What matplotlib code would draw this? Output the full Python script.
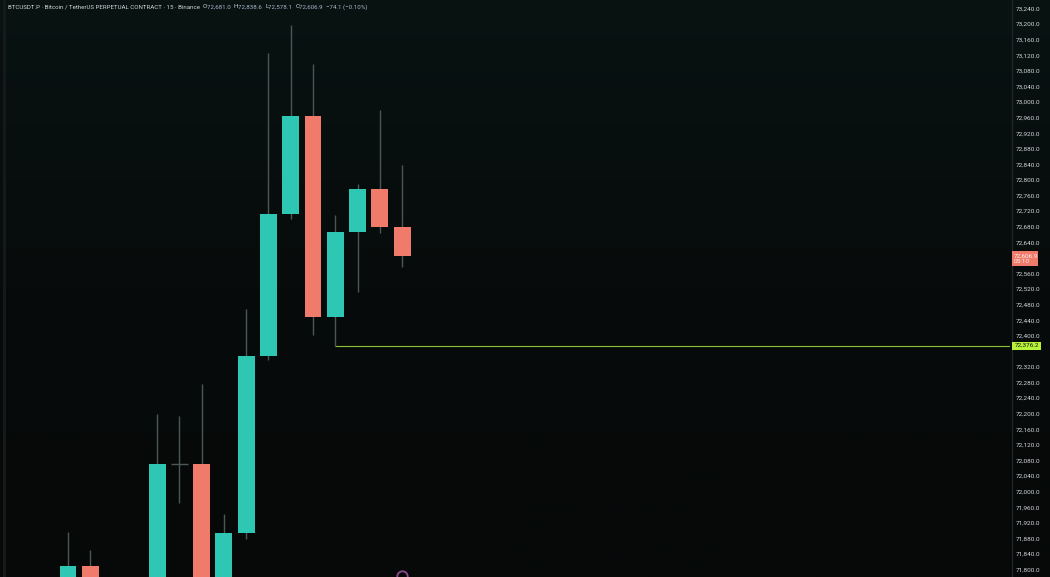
import numpy as np
import matplotlib.pyplot as plt
from matplotlib.patches import Rectangle
from matplotlib.colors import LinearSegmentedColormap

plt.rcParams['font.family'] = ['Roboto', 'DejaVu Sans']

# 15m candles, BTCUSDT.P (Binance); first four partly below the visible range
opens = [71700, 71810, 71715, 71650, 71745, 72073, 72073, 71760, 71896, 72349,
         72714, 72965, 72450, 72668, 72777, 72681.0]
highs = [71897, 71851, 71760, 71770, 72200, 72195, 72277, 71944, 72469, 73128,
         73199, 73099, 72711, 72791, 72982, 72838.6]
lows = [71660, 71690, 71620, 71630, 71730, 71972, 71740, 71745, 71880, 72340,
        72701, 72403, 72376.2, 72514, 72666, 72578.1]
closes = [71810, 71715, 71650, 71745, 72073, 72073, 71760, 71896, 72349, 72714,
          72965, 72450, 72668, 72777, 72681, 72606.9]
price_ticks = np.arange(71800, 73241, 40)
low_line = 72376.2
low_idx = 12
countdown = '05:10'

UP = '#2ec7b4'
DOWN = '#f07b6b'
WICK = '#4b5656'
TXT = '#d3d6da'
VAL = '#a9b6cc'
FS = 4.6

W, H = 1050, 577
fig = plt.figure(figsize=(W / 100, H / 100), dpi=100)

# background gradient
bg = fig.add_axes([0, 0, 1, 1])
cmap = LinearSegmentedColormap.from_list('bg', ['#081312', '#070b0b', '#070909'])
bg.imshow(np.linspace(0, 1, 256).reshape(-1, 1), aspect='auto', cmap=cmap,
          extent=[0, 1, 0, 1])
bg.set_axis_off()
bg.axvline(4 / W, color='#161a1a', lw=2)

plot_w = 1010
px_per_bar = 22.27
x0 = -68 / px_per_bar
ppu = 0.3896  # pixels per price unit
ymax = 73240 + 9 / ppu
ymin = ymax - H / ppu

ax = fig.add_axes([0, 0, plot_w / W, 1])
ax.patch.set_alpha(0)
ax.set_xlim(x0, x0 + plot_w / px_per_bar)
ax.set_ylim(ymin, ymax)
ax.set_axis_off()

bw = 0.76
for i, (o, h, l, c) in enumerate(zip(opens, highs, lows, closes)):
    ax.vlines(i, l, h, color=WICK, lw=1, zorder=2)
    if o == c:
        ax.hlines(o, i - bw / 2, i + bw / 2, color=WICK, lw=1, zorder=3)
        continue
    col = UP if c > o else DOWN
    ax.add_patch(Rectangle((i - bw / 2, min(o, c)), bw, abs(c - o),
                           facecolor=col, edgecolor='none', zorder=3))

ax.hlines(low_line, low_idx, x0 + plot_w / px_per_bar, color='#8fc23a', lw=0.8, zorder=1)
# event marker peeking in at the bottom edge
ax.plot([15], [ymin + 1 / ppu], 'o', ms=7.5, mfc='none', mec='#8e4a8e', mew=1.3, zorder=4)

# price scale
pa = fig.add_axes([plot_w / W, 0, (W - plot_w) / W, 1])
pa.patch.set_alpha(0)
pa.set_xlim(0, W - plot_w)
pa.set_ylim(ymin, ymax)
pa.set_axis_off()
pa.axvline(1.5, color='#202525', lw=1)

u = 1 / ppu
last = closes[-1]
red_box = (last - 10 * u, last + 4.5 * u)
green_box = (low_line - 4 * u, low_line + 4 * u)
for p in price_ticks:
    if red_box[0] - 3 * u < p < red_box[1] + 3 * u or green_box[0] - 3 * u < p < green_box[1] + 3 * u:
        continue
    pa.text(6, p, f'{p:,.1f}', color=TXT, fontsize=FS, va='center', ha='left')

pa.add_patch(Rectangle((2, red_box[0]), 26, red_box[1] - red_box[0], facecolor=DOWN,
                       edgecolor='none', zorder=5))
pa.text(4, last, f'{last:,.1f}', color='#fff1ee', fontsize=FS, va='center', zorder=6)
pa.text(4, last - 5.5 * u, countdown, color='#fff1ee', fontsize=FS, va='center', zorder=6)
pa.add_patch(Rectangle((2, green_box[0]), 29, green_box[1] - green_box[0],
                       facecolor='#b7f23a', edgecolor='none', zorder=5))
pa.text(5, low_line, f'{low_line:,.1f}', color='#111111', fontsize=FS, va='center', zorder=6)

# header line
pieces = [('BTCUSDT.P · Bitcoin / TetherUS PERPETUAL CONTRACT · 15 · Binance  ', TXT),
          ('O', TXT), (f'{opens[-1]:,.1f}  ', VAL),
          ('H', TXT), (f'{highs[-1]:,.1f}  ', VAL),
          ('L', TXT), (f'{lows[-1]:,.1f}  ', VAL),
          ('C', TXT), (f'{closes[-1]:,.1f}  ', VAL),
          ('−74.1 (−0.10%)', VAL)]
fig.canvas.draw()
r = fig.canvas.get_renderer()
x = 8
for s, col in pieces:
    t = fig.text(x / W, 1 - 7 / H, s, color=col, fontsize=4.4, va='center', ha='left')
    x += t.get_window_extent(r).width

fig.savefig('out.png', dpi=100, facecolor='#070909')
